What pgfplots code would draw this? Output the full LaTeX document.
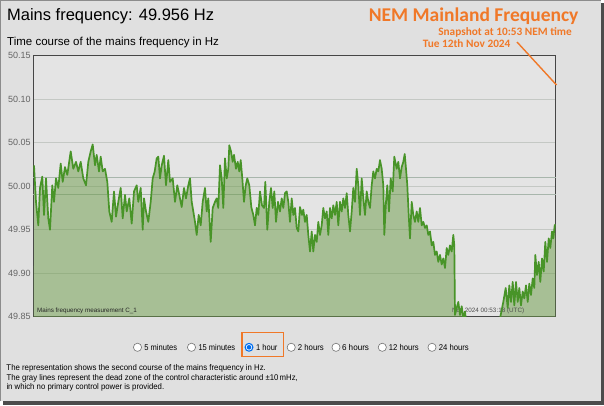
\documentclass[border=0pt]{standalone}
\usepackage{fontspec}
\setmainfont{Liberation Sans}
\newfontfamily\calib{Carlito}
\usepackage{graphicx}
\usepackage{pgfplots}
\usepackage{pgfplotstable}
\pgfplotsset{compat=1.18}
\definecolor{pagebg}{RGB}{224,224,224}
\definecolor{plotbg}{RGB}{228,228,228}
\definecolor{gridgray}{RGB}{196,200,196}
\definecolor{deadgray}{RGB}{168,182,172}
\definecolor{framegray}{RGB}{70,70,70}
\definecolor{labelgray}{RGB}{100,100,100}
\definecolor{fillgreen}{RGB}{108,156,72}
\definecolor{linegreen}{RGB}{72,148,40}
\definecolor{nemorange}{RGB}{240,120,40}
\definecolor{radioblue}{RGB}{0,110,240}
\pgfplotstableread{
x f
34 50.024
36 49.982
38.3 49.955
40 49.998
42.3 50.011
44 49.967
46 50.009
48.3 49.963
50 49.950
52.3 50.001
54 49.982
56 50.009
58.3 49.998
60.7 50.026
62.7 50.005
65 50.022
67.3 50.013
70.7 50.040
73.3 50.020
76 50.028
78.3 50.017
80.7 50.028
83.3 50.009
86 50.001
88.3 50.028
90.7 50.040
92.7 50.048
95 50.024
96.7 50.036
99 50.017
100.7 50.034
102.7 50.017
105 50.020
107.3 50.005
109.3 49.971
111.7 49.959
114 49.994
116 49.965
118.3 49.982
120.7 49.998
122.7 49.963
125 49.990
126.7 49.971
129.3 49.986
131.7 49.957
134 49.994
136.7 50.001
138.3 49.982
140.7 49.998
142.7 49.950
144 49.986
146 49.971
148.3 49.959
150.7 49.982
152.7 50.009
154.7 50.017
156.7 50.032
158.3 50.034
160 50.009
161.7 50.024
164 50.035
166 50.001
168.3 50.030
170 50.005
172.7 50.009
175 49.982
177.3 50.001
179.3 49.990
181.7 49.976
184 49.998
186 49.986
188.3 50.001
190 50.009
191.7 49.982
193.3 49.971
195 49.959
196.7 49.944
198.7 49.967
200.7 49.955
202.7 49.982
205 49.998
206.7 49.971
208.3 49.986
210.7 49.936
212.7 49.975
215 49.982
216.7 49.986
218.3 49.975
220 50.024
221.7 50.009
223.3 49.975
225 50.032
226.7 50.009
228.3 50.020
229.3 50.047
231 50.040
232.7 50.028
234 50.036
236 50.020
237.7 50.028
239.3 50.017
240.7 50.030
242.3 50.009
244 49.982
245.7 50.001
247.3 50.009
249.3 50.001
251.3 49.976
253.3 49.967
255 49.955
256.7 49.975
258.3 49.967
260 49.994
262 49.978
264 49.975
265.3 50.005
267.3 49.950
269.3 49.982
271 49.998
272.7 49.975
274.3 49.994
276 49.959
278 49.982
280 49.971
281.7 49.986
283.3 49.975
285 49.992
286.7 49.994
288.3 49.982
290 49.959
291.7 49.986
293.3 49.967
295 49.975
296.7 49.952
298.3 49.948
300 49.976
302 49.967
303.3 49.973
305 49.959
306.7 49.967
308.3 49.944
310 49.925
311.7 49.948
313.3 49.925
315 49.944
316.7 49.936
318.3 49.959
320 49.944
321.7 49.955
323.3 49.975
325 49.963
326.7 49.971
328.3 49.944
330 49.975
331.7 49.963
333.3 49.978
335 49.967
336.7 49.982
338.3 49.955
340 49.982
341.7 49.971
343.3 49.986
345 49.975
346.7 49.992
348.3 49.967
350 49.948
351.7 49.971
353.3 49.998
355 49.982
356.7 50.020
358.3 50.001
360 49.967
361.7 50.009
363.3 49.986
365 49.967
366.7 49.994
368.3 49.982
370 49.975
371.7 50.001
373.3 50.017
375 50.009
376.7 50.020
378.3 50.017
380 50.030
381.7 50.020
383.3 50.001
384.3 49.944
386 49.982
387.3 50.001
389 49.971
390.7 50.009
392.7 49.994
394.3 50.034
396.7 50.020
398.3 50.028
400 50.009
401.7 50.022
403.3 50.028
404.7 50.037
406 50.020
407.3 50.001
408.7 49.967
410 49.940
411.7 49.982
413.3 49.967
415 49.959
416.7 49.971
418.3 49.959
420 49.975
421.7 49.955
423.3 49.959
425 49.952
426.7 49.955
428.3 49.944
430 49.948
431.7 49.932
433.3 49.936
435 49.921
436.7 49.925
438.3 49.913
440 49.921
441.7 49.910
443.3 49.917
445 49.906
446.7 49.929
448.3 49.921
450 49.932
451.7 49.925
453.3 49.944
454.3 49.932
455 49.852
456.7 49.860
458.3 49.867
460 49.852
461.7 49.862
463.3 49.848
465 49.856
466.5 49.840
470 49.830
475 49.820
480 49.815
485 49.820
490 49.825
495 49.835
498 49.842
500 49.848
503.3 49.867
505.7 49.883
507.7 49.860
509.3 49.886
511 49.867
512.7 49.890
514.3 49.863
516 49.890
517.7 49.867
519.3 49.883
521 49.863
522.7 49.879
524.3 49.871
526 49.886
527.7 49.867
529.3 49.888
531 49.875
532.7 49.894
534.3 49.883
535.3 49.921
537 49.898
538.7 49.913
540.3 49.890
542 49.917
543.7 49.902
545.3 49.936
547 49.913
548.7 49.940
550.3 49.929
552 49.948
553.3 49.940
554.7 49.955
555.7 49.956
}\freqdata
\begin{document}
\begin{tikzpicture}[x=1pt,y=1pt]
\fill[white] (0,0) rectangle (604,405);
\fill[black!70] (3,0) rectangle (604,402);
\fill[pagebg] (0,4) rectangle (600.5,405);
\draw[black!45, line width=0.6pt] (0.3,4) -- (0.3,404.7) -- (600.5,404.7);
% titles
\node[anchor=west, inner sep=0pt, font=\fontsize{16.5}{18}\selectfont] at (6.9,389) {Mains frequency: 49.956 Hz};
\node[anchor=west, inner sep=0pt, font=\fontsize{11.5}{13}\selectfont] at (7,362.5) {Time course of the mains frequency in Hz};
\node[anchor=east, inner sep=0pt, text=nemorange, font=\calib\bfseries\fontsize{19.5}{21}\selectfont] at (578.6,388.5) {NEM Mainland Frequency};
\node[anchor=east, inner sep=0pt, text=nemorange, font=\calib\bfseries\fontsize{11.3}{12}\selectfont] at (572,372.5) {Snapshot at 10:53 NEM time};
\node[anchor=west, inner sep=0pt, text=nemorange, font=\calib\bfseries\fontsize{11.3}{12}\selectfont] at (422.6,361) {Tue 12th Nov 2024};
\begin{axis}[
  at={(33.3pt,88.3pt)}, anchor=south west,
  scale only axis, width=522.4pt, height=261pt,
  xmin=33.3, xmax=555.7, ymin=49.85, ymax=50.15,
  xtick=\empty,
  ytick={49.85,49.90,49.95,50.00,50.05,50.10,50.15},
  /pgf/number format/assume math mode=true,
  yticklabel style={font=\fontsize{9}{10}\selectfont, text=labelgray, inner xsep=2.5pt,
    /pgf/number format/fixed, /pgf/number format/fixed zerofill, /pgf/number format/precision=2},
  major tick length=0pt,
  ymajorgrids, grid style={gridgray, line width=0.7pt},
  extra y ticks={49.99,50.01}, extra y tick labels={},
  extra y tick style={grid style={deadgray, line width=1.1pt}},
  axis background/.style={fill=plotbg},
  axis line style={draw=framegray, line width=1pt},
]
\addplot[fill=fillgreen, fill opacity=0.5, draw=none, forget plot] table[x=x, y=f] {\freqdata} |- (axis cs:33.3,49.70) -- cycle;
\node[anchor=south west, inner sep=0pt, font=\fontsize{6.3}{7}\selectfont, text=black!85] at (rel axis cs:0.007,0.012) {Mains frequency measurement C\_1};
\node[anchor=south east, inner sep=0pt, font=\fontsize{6.3}{7}\selectfont, text=black!70] at (rel axis cs:0.94,0.012) {Nov 2024 00:53:18 (UTC)};
\addplot[linegreen, line width=1.7pt, line join=round] table[x=x, y=f] {\freqdata};
\end{axis}
\draw[nemorange, line width=1.4pt] (517,363) -- (556.5,320);
% radio buttons
\foreach \cx/\lx/\w/\lab in {137.5/144.2/32.7/5 minutes, 191.5/198.3/36.7/15 minutes, 291.2/297.7/26/2 hours, 336/341.8/27/6 hours, 382.3/388.6/30/12 hours, 432/438.6/30/24 hours}{
  \filldraw[fill=white, draw=black!55, line width=0.6pt] (\cx,57.7) circle (4.1);
  \node[anchor=west, inner sep=0pt, font=\fontsize{8.4}{10}\selectfont] at (\lx,57.7) {\resizebox{\w pt}{\height}{\lab}};
}
\filldraw[fill=white, draw=radioblue, line width=1.1pt] (249,57.7) circle (3.9);
\fill[radioblue] (249,57.7) circle (2.3);
\node[anchor=west, inner sep=0pt, font=\fontsize{8.4}{10}\selectfont] at (256,57.7) {\resizebox{21.3pt}{\height}{1 hour}};
\draw[nemorange, line width=1.8pt] (241.7,48.5) rectangle (283.5,72.5);
% footnote
\node[anchor=west, inner sep=0pt, font=\fontsize{8.3}{9}\selectfont] at (6.3,36.7) {\resizebox{259.4pt}{\height}{The representation shows the second course of the mains frequency in Hz.}};
\node[anchor=west, inner sep=0pt, font=\fontsize{8.3}{9}\selectfont] at (6.3,27) {\resizebox{291.4pt}{\height}{The gray lines represent the dead zone of the control characteristic around ±10\,mHz,}};
\node[anchor=west, inner sep=0pt, font=\fontsize{8.3}{9}\selectfont] at (6.3,17.7) {\resizebox{157.7pt}{\height}{in which no primary control power is provided.}};
\end{tikzpicture}
\end{document}
